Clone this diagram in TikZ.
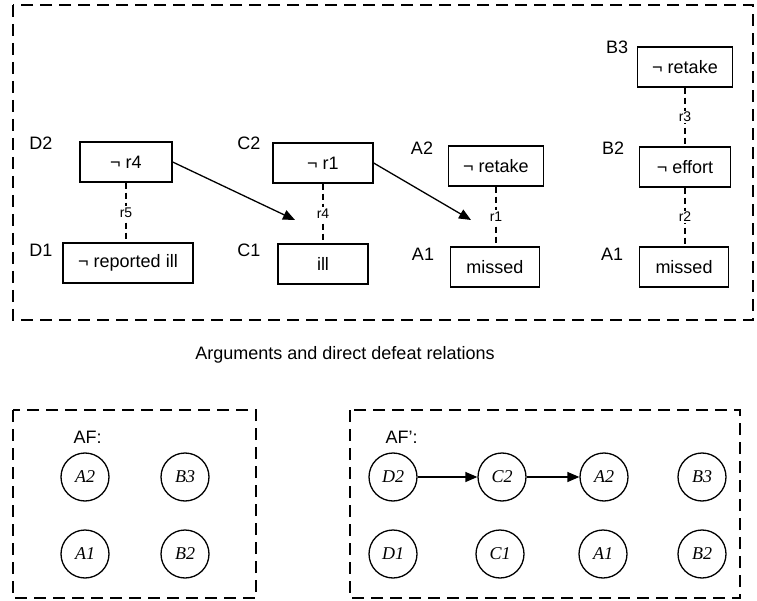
\documentclass[tikz,border=0pt]{standalone}
\usepackage{fontspec}
\setmainfont{Liberation Sans}
\newfontfamily\argfont{Liberation Serif}
\usetikzlibrary{arrows.meta}

\tikzset{
    argbox/.style={draw, line width=1.3pt, inner xsep=15pt, minimum height=40pt,
        font=\fontsize{18}{21}\selectfont},
    tag/.style={font=\fontsize{18}{21}\selectfont},
    rule/.style={draw, line width=1.6pt, dash pattern=on 6pt off 4pt},
    rulename/.style={midway, fill=white, inner sep=1.5pt, font=\fontsize{14}{16}\selectfont},
    frame/.style={draw, line width=1.3pt, dash pattern=on 12pt off 7pt},
    argnode/.style={circle, draw, line width=1.3pt, minimum size=48pt, inner sep=0pt,
        font=\argfont\itshape\fontsize{18}{21}\selectfont},
    defeat/.style={draw, line width=1.3pt, -{Triangle[length=12pt, width=10pt]}}
}

\begin{document}
\begin{tikzpicture}[x=1pt, y=-1pt]
        \useasboundingbox (0,0) rectangle (757,601);

        % arguments
        \draw[frame] (13,5) rectangle (753,320);

        \node[argbox, minimum width=92pt] (D2) at (126,162) {¬ r4};
        \node[argbox, minimum width=130pt] (D1) at (128,263) {¬ reported ill};
        \node[tag] at (41,143) {D2};
        \node[tag] at (41,250) {D1};
        \path[rule] (D2.south) -- (D2.south |- D1.north) node[rulename] {r5};

        \node[argbox, minimum width=100pt] (C2) at (323,163) {¬ r1};
        \node[argbox, minimum width=90pt] (C1) at (323,264) {ill};
        \node[tag] at (249,143) {C2};
        \node[tag] at (249,250) {C1};
        \path[rule] (C2.south) -- (C2.south |- C1.north) node[rulename] {r4};

        \node[argbox, minimum width=93pt] (A2) at (496,166) {¬ retake};
        \node[argbox, minimum width=89pt] (A1) at (495,267) {missed};
        \node[tag] at (422,148) {A2};
        \node[tag] at (423,254) {A1};
        \path[rule] (A2.south) -- (A2.south |- A1.north) node[rulename] {r1};

        \node[argbox, minimum width=91pt] (B3) at (685,67) {¬ retake};
        \node[argbox, minimum width=91pt] (B2) at (685,167) {¬ effort};
        \node[argbox, minimum width=89pt] (A1b) at (684,267) {missed};
        \node[tag] at (617,47) {B3};
        \node[tag] at (613,148) {B2};
        \node[tag] at (612,254) {A1};
        \path[rule] (B3.south) -- (B3.south |- B2.north) node[rulename] {r3};
        \path[rule] (B2.south) -- (B2.south |- A1b.north) node[rulename] {r2};

        % direct defeats
        \coordinate (r4hit) at (295,220);
        \coordinate (r1hit) at (471,220);
        \draw[defeat] (D2.east) -- (r4hit);
        \draw[defeat] (C2.east) -- (r1hit);

        \node[tag] (caption) at (345,355) {Arguments and direct defeat relations};

        % AF
        \draw[frame] (13,410) rectangle (256,598);
        \node[tag, anchor=west] at (70,437) {AF:};
        \node[argnode] (afA2) at (85,477) {A2};
        \node[argnode] (afB3) at (185,477) {B3};
        \node[argnode] (afA1) at (85,554) {A1};
        \node[argnode] (afB2) at (185,554) {B2};

        % AF'
        \draw[frame] (350,410) rectangle (740,598);
        \node[tag, anchor=west] at (382,437) {AF’:};
        \node[argnode] (pD2) at (393,477) {D2};
        \node[argnode] (pC2) at (502,477) {C2};
        \node[argnode] (pA2) at (604,477) {A2};
        \node[argnode] (pB3) at (702,477) {B3};
        \node[argnode] (pD1) at (393,554) {D1};
        \node[argnode] (pC1) at (500,554) {C1};
        \node[argnode] (pA1) at (603,554) {A1};
        \node[argnode] (pB2) at (702,554) {B2};
        \draw[defeat] (pD2) -- (pC2);
        \draw[defeat] (pC2) -- (pA2);

    \end{tikzpicture}
\end{document}
